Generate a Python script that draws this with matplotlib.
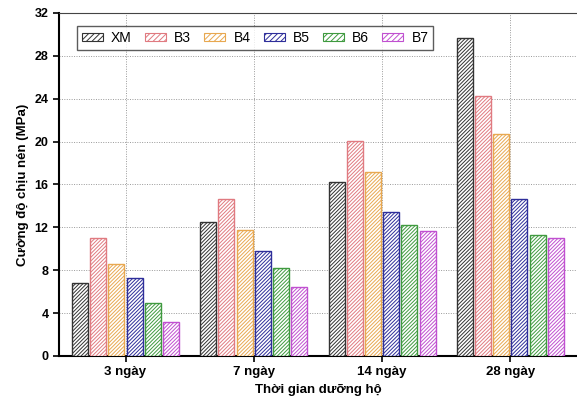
import numpy as np
import matplotlib.pyplot as plt
from matplotlib.patches import Patch

plt.rcParams['font.family'] = ['Liberation Sans', 'DejaVu Sans']
plt.rcParams['hatch.linewidth'] = 0.7

# ----------------- data
days = ['3 ngày', '7 ngày', '14 ngày', '28 ngày']
mixes = ['XM', 'B3', 'B4', 'B5', 'B6', 'B7']
xm = [6.8, 12.5, 16.2, 29.7]
b3 = [11.0, 14.6, 20.1, 24.3]
b4 = [8.6, 11.75, 17.2, 20.7]
b5 = [7.3, 9.8, 13.4, 14.6]
b6 = [4.9, 8.2, 12.2, 11.3]
b7 = [3.2, 6.4, 11.7, 11.0]
values = [xm, b3, b4, b5, b6, b7]

colors = ['#333333', '#e07a80', '#e8a850', '#2e2e9a', '#3f9a3f', '#c050d0']
hatch = '/' * 9

fig = plt.figure(figsize=(5.77, 4.05), dpi=100)
ax = fig.add_axes([0.102, 0.121, 0.898, 0.847])

x = np.arange(len(days))
pitch = 0.142
width = 0.125
for k, (name, vals) in enumerate(zip(mixes, values)):
    pos = x + (k - 2.5) * pitch
    ax.bar(pos, vals, width, facecolor='white', edgecolor=colors[k],
           hatch=hatch, linewidth=1.0, label=name, zorder=3)

ax.set_xlim(-0.52, 3.52)
ax.set_ylim(0, 32)
ax.set_yticks(np.arange(0, 33, 4))
ax.set_xticks(x)
ax.set_xticklabels(days, fontweight='bold', fontsize=9.5)
for lab in ax.get_yticklabels():
    lab.set_fontweight('bold')
    lab.set_fontsize(9)

ax.grid(True, linestyle=(0, (1, 1.5)), color='#999999', linewidth=0.7, zorder=0)
ax.spines['right'].set_visible(False)
ax.spines['top'].set_color('#444444')
ax.spines['left'].set_linewidth(1.5)
ax.spines['bottom'].set_linewidth(1.5)
ax.tick_params(axis='both', direction='out', length=4, width=1.2)

ax.set_xlabel('Thời gian dưỡng hộ', fontweight='bold', fontsize=9.5)
ax.set_ylabel('Cường độ chịu nén (MPa)', fontweight='bold', fontsize=9.5)

handles = [Patch(facecolor='white', edgecolor=c, hatch='//////', linewidth=0.8, label=m)
           for m, c in zip(mixes, colors)]
leg = ax.legend(handles=handles, loc='upper left', ncol=6, fontsize=10,
                frameon=True, fancybox=False, edgecolor='#333333',
                bbox_to_anchor=(0.035, 0.962), borderaxespad=0,
                handlelength=1.5, handleheight=0.5, handletextpad=0.6,
                columnspacing=0.95, borderpad=0.35)
leg.get_frame().set_linewidth(1.0)
leg.set_zorder(5)

plt.savefig('out.png', dpi=100)
